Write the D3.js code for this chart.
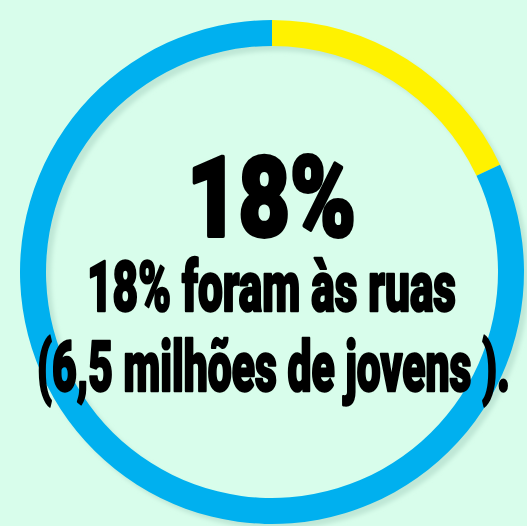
<!DOCTYPE html>
<html>
<head>
<meta charset="utf-8">
<script src="https://cdn.jsdelivr.net/npm/d3@7"></script>
<style>
  html, body { margin: 0; padding: 0; background: #d8fdeb; }
  svg { display: block; }
  .label { font-family: Roboto, "Liberation Sans", sans-serif; font-weight: 900; fill: #000; stroke: #000; stroke-linejoin: round; }
</style>
</head>
<body>
<svg></svg>
<script>
var width = 527, height = 526;

// data
var categories = ["foram às ruas", "não foram"];
var values = [18, 82];
var colors = ["#fff200", "#00b0ef"];
var headline = "18%";
var lines = ["18% foram às ruas", "(6,5 milhões de jovens )."];

var cx = 272, cy = 272,
    outerR = 252, innerR = 226;

var svg = d3.select("svg")
    .attr("width", width)
    .attr("height", height);

var defs = svg.append("defs");
defs.append("filter")
    .attr("id", "blur")
    .attr("x", "-10%").attr("y", "-10%")
    .attr("width", "120%").attr("height", "120%")
  .append("feGaussianBlur")
    .attr("stdDeviation", 2);

var pie = d3.pie().sort(null).value(function(d) { return d; });
var arc = d3.arc().innerRadius(innerR).outerRadius(outerR);

// drop shadow
svg.append("g")
    .attr("transform", "translate(" + (cx + 5) + "," + (cy + 5) + ")")
  .append("path")
    .attr("d", d3.arc().innerRadius(innerR).outerRadius(outerR).startAngle(0).endAngle(2 * Math.PI)())
    .attr("fill", "#bfe7d6")
    .attr("filter", "url(#blur)");

var g = svg.append("g")
    .attr("transform", "translate(" + cx + "," + cy + ")");

g.selectAll("path.slice")
    .data(pie(values))
  .enter().append("path")
    .attr("class", "slice")
    .attr("d", arc)
    .attr("fill", function(d, i) { return colors[i]; });

// center text
svg.append("text")
    .attr("class", "label")
    .attr("x", 187)
    .attr("y", 236)
    .attr("font-size", 112)
    .attr("stroke-width", 4)
    .attr("textLength", 169)
    .attr("lengthAdjust", "spacingAndGlyphs")
    .text(headline);

svg.append("text")
    .attr("class", "label")
    .attr("x", 87)
    .attr("y", 311)
    .attr("font-size", 70)
    .attr("stroke-width", 2.5)
    .attr("textLength", 369)
    .attr("lengthAdjust", "spacingAndGlyphs")
    .text(lines[0]);

svg.append("text")
    .attr("class", "label")
    .attr("x", 37)
    .attr("y", 391)
    .attr("font-size", 70)
    .attr("stroke-width", 2.5)
    .attr("textLength", 473)
    .attr("lengthAdjust", "spacingAndGlyphs")
    .text(lines[1]);
</script>
</body>
</html>
